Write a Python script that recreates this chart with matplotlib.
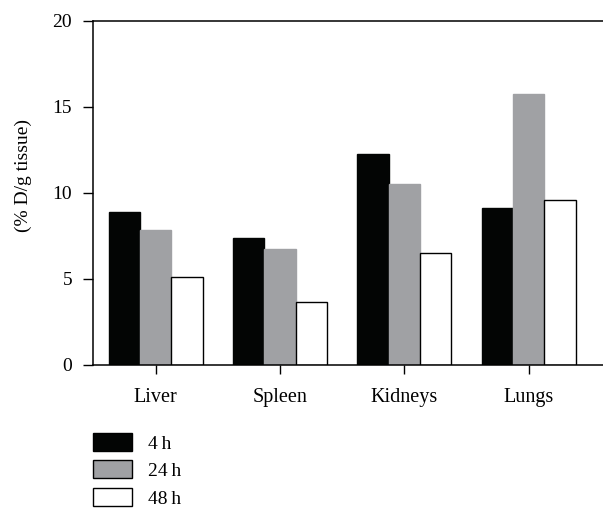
import matplotlib
matplotlib.use("Agg")
import matplotlib.pyplot as plt
from matplotlib.patches import Patch
import numpy as np

plt.rcParams['font.family'] = ['Liberation Serif', 'DejaVu Serif']

categories = ["Liver", "Spleen", "Kidneys", "Lungs"]
series_labels = ["4\u2009h", "24\u2009h", "48\u2009h"]
vals_4h = [8.88, 7.37, 12.26, 9.12]
vals_24h = [7.84, 6.73, 10.51, 15.73]
vals_48h = [5.08, 3.65, 6.48, 9.56]
yticks = [0, 5, 10, 15, 20]
ylabel = "(% D/g tissue)"

colors = ["#030504", "#a0a1a4", "#ffffff"]
edges = ["#030504", "#a0a1a4", "#000000"]

fig = plt.figure(figsize=(6.03, 5.09), dpi=100)
ax = fig.add_axes([93.3/603, 1-364.7/509, 1-93.3/603, (364.7-21)/509])

x = np.arange(len(categories))
w = 0.252
for i, (vals, c, ec) in enumerate(zip([vals_4h, vals_24h, vals_48h], colors, edges)):
    ax.bar(x + (i-1)*w, vals, width=w, color=c, edgecolor=ec, linewidth=1.0, zorder=2)

ax.set_xlim(-0.502, 3.598)
ax.set_ylim(0, 20)
ax.set_yticks(yticks)
ax.set_xticks(x)
ax.set_xticklabels(categories)
ax.spines['right'].set_visible(False)
for s in ['left', 'bottom', 'top']:
    ax.spines[s].set_linewidth(1.1)
ax.tick_params(axis='y', length=7.2, width=1.0, pad=8, labelsize=14)
ax.tick_params(axis='x', length=6.8, width=1.0, pad=10, labelsize=14.5)
ax.set_ylabel(ylabel, fontsize=14)
ax.yaxis.set_label_coords(-0.12, 0.55)

handles = [Patch(facecolor=c, edgecolor='black', linewidth=1.0) for c in colors]
fig.legend(handles, series_labels, loc='upper left',
           bbox_to_anchor=(92.7/603, 1-433/509), frameon=False, fontsize=14,
           handlelength=2.0, handleheight=1.05, handletextpad=0.85,
           labelspacing=0.4, borderpad=0, borderaxespad=0)

fig.savefig("out.png", dpi=100)
